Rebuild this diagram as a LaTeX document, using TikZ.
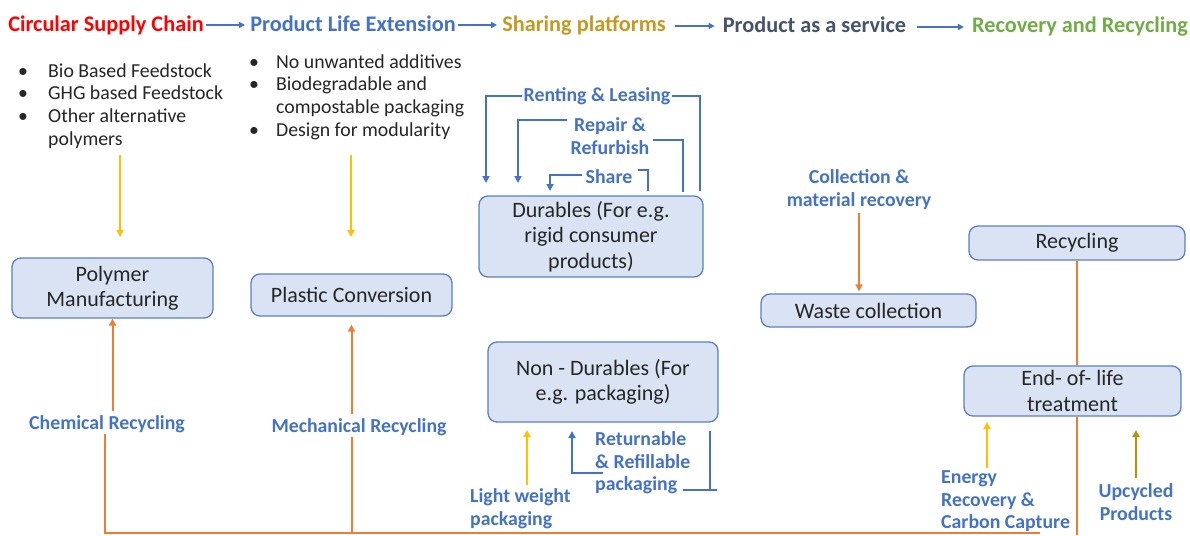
\documentclass[tikz,border=0pt]{standalone}
\usepackage{fontspec}
\setmainfont{Carlito}
\usetikzlibrary{arrows.meta,calc}
\definecolor{cred}{HTML}{FF0000}
\definecolor{cblue}{HTML}{4472C4}
\definecolor{cgold}{HTML}{C49A22}
\definecolor{cdark}{HTML}{44546A}
\definecolor{cgreen}{HTML}{70AD47}
\definecolor{boxfill}{HTML}{DAE3F3}
\definecolor{boxdraw}{HTML}{5B7FC0}
\definecolor{corange}{HTML}{ED7D31}
\definecolor{cyellow}{HTML}{FFC000}
\definecolor{cdgold}{HTML}{BF9000}
\definecolor{ctext}{HTML}{262626}
\begin{document}
\begin{tikzpicture}[x=1pt,y=-1pt,
  title/.style={font=\fontsize{22.3}{25}\selectfont\bfseries, inner sep=1pt, anchor=base},
  tarrow/.style={draw=cblue, line width=1.6pt, -{Triangle[length=6pt,width=6pt]}},
  blist/.style={font=\fontsize{19.8}{22.7}\selectfont, text=ctext, align=left, inner sep=0pt, anchor=west},
  stagebox/.style={draw=boxdraw, fill=boxfill, line width=1.3pt, rounded corners=9pt,
     font=\fontsize{22}{25.5}\selectfont, text=ctext, align=center, inner sep=2pt},
  lbl/.style={font=\fontsize{19.8}{22.5}\selectfont\bfseries, text=cblue, inner sep=1pt},
  bl/.style={draw=cblue, line width=2pt},
  bla/.style={bl, -{Triangle[length=7pt,width=7pt]}},
  orl/.style={draw=corange, line width=2pt},
  ora/.style={orl, -{Triangle[length=7pt,width=7pt]}},
  yla/.style={draw=cyellow, line width=2pt, -{Triangle[length=7pt,width=7pt]}},
  dga/.style={draw=cdgold, line width=2pt, -{Triangle[length=7pt,width=7pt]}},
]
\useasboundingbox[fill=white] (0,0) rectangle (1190,535);

% title row
\node[title, text=cred]   (t1) at (106,32)  {Circular Supply Chain};
\node[title, text=cblue]  (t2) at (353,32)  {Product Life Extension};
\node[title, text=cgold]  (t3) at (584,32)  {Sharing platforms};
\node[title, text=cdark]  (t4) at (814.5,33)  {Product as a service};
\node[title, text=cgreen] (t5) at (1080,33) {Recovery and Recycling};
\draw[tarrow, shorten <=1pt, shorten >=4pt] (t1.east |- 0,25) -- (t2.west |- 0,25);
\draw[tarrow, shorten <=1pt, shorten >=4pt] (t2.east |- 0,25) -- (t3.west |- 0,25);
\draw[tarrow, shorten <=8pt, shorten >=7pt] (t3.east |- 0,26) -- (t4.west |- 0,26);
\draw[tarrow, shorten <=10pt, shorten >=7pt] (t4.east |- 0,27) -- (t5.west |- 0,27);

% bullet lists
\node[blist] (list1) at (18,106) {\makebox[30pt][l]{\textbullet}Bio Based Feedstock\\
\makebox[30pt][l]{\textbullet}GHG based Feedstock\\
\makebox[30pt][l]{\textbullet}Other alternative\\
\hspace*{30pt}polymers};
\node[blist] (list2) at (249,97) {\makebox[27pt][l]{\textbullet}No unwanted additives\\
\makebox[27pt][l]{\textbullet}Biodegradable and\\
\hspace*{27pt}compostable packaging\\
\makebox[27pt][l]{\textbullet}Design for modularity};

% boxes
\node[stagebox, minimum width=201pt, minimum height=60pt] (poly) at (112.5,288) {Polymer\\Manufacturing};
\node[stagebox, minimum width=201pt, minimum height=42pt] (plast) at (351.5,295) {Plastic Conversion};
\node[stagebox, minimum width=224pt, minimum height=81pt] (dur) at (591,236.5) {Durables (For e.g.\\rigid consumer\\products)};
\node[stagebox, minimum width=230pt, minimum height=80pt] (nondur) at (603,382) {Non - Durables (For\\e.g. packaging)};
\node[stagebox, minimum width=215pt, minimum height=33pt] (waste) at (868.5,310.5) {Waste collection};
\node[stagebox, minimum width=216pt, minimum height=34pt] (recyc) at (1077,243) {Recycling};
\node[stagebox, minimum width=217pt, minimum height=50pt] (eol) at (1072.5,391) {End- of- life\\treatment};

% labels
\node[lbl] (rent) at (597,96) {Renting \& Leasing};
\node[lbl, align=center] (repair) at (610,136) {Repair \&\\Refurbish};
\node[lbl] (share) at (609,177) {Share};
\node[lbl, align=center] (coll) at (859,189.5) {Collection \&\\material recovery};
\node[lbl] (chem) at (107,424) {Chemical Recycling};
\node[lbl] (mech) at (359,427) {Mechanical Recycling};
\node[lbl, align=left, anchor=west] (light) at (469,508.5) {Light weight\\packaging};
\node[lbl, align=left, anchor=west] (ret) at (594,463) {Returnable\\\& Refillable\\packaging};
\node[lbl, align=left, anchor=west] (energy) at (940,501.5) {Energy\\Recovery \&\\Carbon Capture};
\node[lbl, align=center] (upc) at (1136,502) {Upcycled\\Products};

% free-end coordinates
\coordinate (rentL) at (486,183);
\coordinate (rentR) at (700,191);
\coordinate (repL) at (518,183);
\coordinate (repR) at (683,192);
\coordinate (shL) at (550,191);
\coordinate (shR) at (648,191);
\coordinate (retUp) at (572,431);
\coordinate (retTop) at (710,431);
\coordinate (retBar) at (710,490);
\coordinate (retBarR) at (717,490);
\coordinate (botL) at (105,533);
\coordinate (botR) at (1040,533);
\coordinate (mechB) at (352,533);
\coordinate (eolB) at (1077,535);
\coordinate (y1a) at (120,155);
\coordinate (y1b) at (120,237);
\coordinate (y2a) at (351,155);
\coordinate (y2b) at (351,237);
\coordinate (y3b) at (527,430);
\coordinate (y4b) at (987,422);
\coordinate (y5b) at (1136,430);

% durables loops
\draw[bla] (rent.west) -| (rentL);
\draw[bl] (rent.east) -| (rentR);
\draw[bla] (repair.west) ++(-2,-16) -| (repL);
\draw[bl] (repair.east) ++(2,4) -| (repR);
\draw[bla] (share.west) ++(-3,-2) -| (shL);
\draw[bl] (share.east) ++(5,-7) -| (shR);

% returnable loop
\draw[bla] (ret.west) ++(9,10) -| (retUp);
\draw[bl] (retTop) -- (retBar);
\draw[bl] (ret.east) ++(-8,27) -- (retBarR);

% yellow arrows
\draw[yla] (y1a) -- (y1b);
\draw[yla] (y2a) -- (y2b);
\draw[yla] (y3b |- light.north) ++(0,-2) -- (y3b);
\draw[yla] (y4b |- energy.north) ++(0,-2) -- (y4b);
\draw[dga] (upc.north) ++(0,-5) -- (y5b);

% orange recycling lines
\draw[ora, shorten <=3pt] (chem.north -| poly.south) -- (poly.south);
\draw[orl] (chem.south) ++(-2,0) -- (botL) -- (botR);
\draw[ora, shorten <=3pt, shorten >=8pt] (mech.north -| plast.south) -- (plast.south);
\draw[orl] (mech.south -| mechB) -- (mechB);
\draw[ora, shorten <=3pt, shorten >=2pt] (coll.south) -- (coll.south |- waste.north);
\draw[orl] (recyc.south) -- (recyc.south |- eol.north);
\draw[orl] (recyc.south |- eol.south) -- (eolB);
\end{tikzpicture}
\end{document}
